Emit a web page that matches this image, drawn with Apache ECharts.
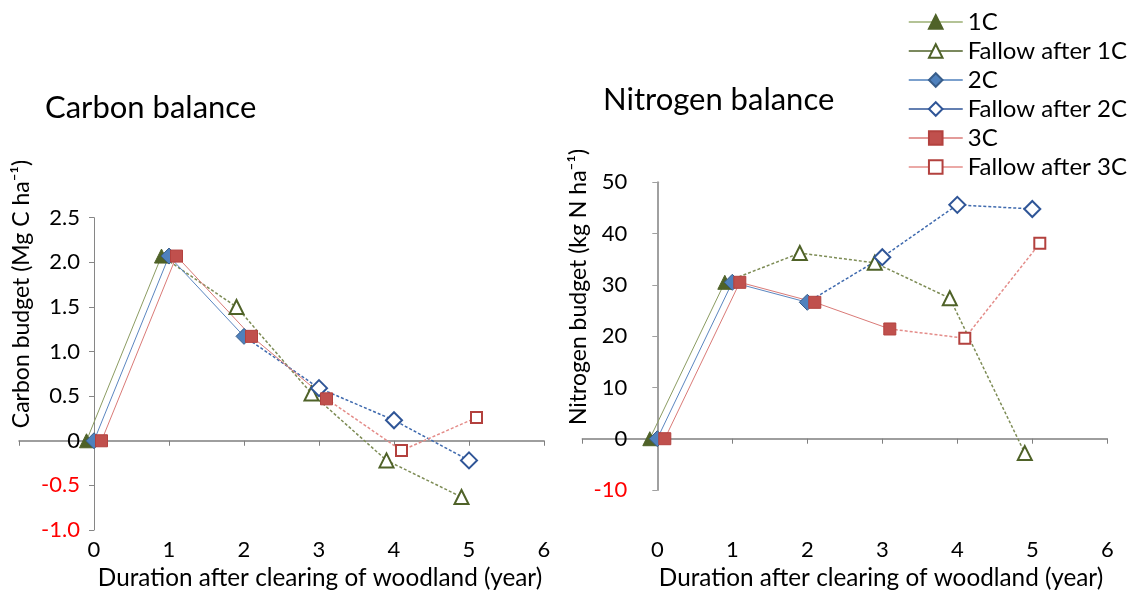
<!DOCTYPE html>
<html>
<head>
<meta charset="utf-8">
<script src="https://cdn.jsdelivr.net/npm/echarts@6/dist/echarts.min.js"></script>
<style>
  html, body { margin: 0; padding: 0; background: #fff; }
  #chart { width: 1139px; height: 595px; }
</style>
</head>
<body>
<div id="chart"></div>
<script>
// Series names (legend order)
const seriesNames = ['1C', 'Fallow after 1C', '2C', 'Fallow after 2C', '3C', 'Fallow after 3C'];

// Carbon budget (Mg C ha-1) by year; x values are staggered by system
const carbon1C = [[-0.1, 0], [0.9, 2.07]];
const carbonFallow1C = [[1.9, 1.50], [2.9, 0.53], [3.9, -0.22], [4.9, -0.63]];
const carbon2C = [[0, 0], [1.0, 2.07], [2.0, 1.17]];
const carbonFallow2C = [[3.0, 0.59], [4.0, 0.23], [5.0, -0.22]];
const carbon3C = [[0.1, 0], [1.1, 2.07], [2.1, 1.17], [3.1, 0.47]];
const carbonFallow3C = [[4.1, -0.11], [5.1, 0.26]];

// Nitrogen budget (kg N ha-1) by year
const nitrogen1C = [[-0.1, 0], [0.9, 30.5]];
const nitrogenFallow1C = [[1.9, 36.2], [2.9, 34.3], [3.9, 27.4], [4.9, -2.8]];
const nitrogen2C = [[0, 0], [1.0, 30.5], [2.0, 26.6]];
const nitrogenFallow2C = [[3.0, 35.4], [4.0, 45.6], [5.0, 44.8]];
const nitrogen3C = [[0.1, 0], [1.1, 30.5], [2.1, 26.6], [3.1, 21.4]];
const nitrogenFallow3C = [[4.1, 19.6], [5.1, 38.1]];

// Axis ranges
const xRange = { min: -1, max: 6, interval: 1 };
const carbonRange = { min: -1, max: 2.5, interval: 0.5 };
const nitrogenRange = { min: -10, max: 50, interval: 10 };

const FONT = 'Lato, "Open Sans", sans-serif';

// Plot area geometry: the x axis spans -1..6, the y axis crosses at x = 0
const PLOT_W = 525;
const Y_AXIS_SHIFT = PLOT_W / (xRange.max - xRange.min) * (0 - xRange.min);

const styles = {
  '1C':              { symbol: 'triangle', size: 14, fill: '#4F6228', border: '#4F6228', bw: 1, line: '#8C9C62', legendLine: '#9BAF73', dashed: false },
  'Fallow after 1C': { symbol: 'triangle', size: 14, fill: '#ffffff', border: '#4F6228', bw: 2, line: '#7D8C55', legendLine: '#4F6228', dashed: true },
  '2C':              { symbol: 'diamond',  size: 16, fill: '#4F81BD', border: '#385D8A', bw: 1, line: '#5B86C0', legendLine: '#4F81BD', dashed: false },
  'Fallow after 2C': { symbol: 'diamond',  size: 16, fill: '#ffffff', border: '#2F5597', bw: 2, line: '#3F6AAE', legendLine: '#2F5597', dashed: true },
  '3C':              { symbol: 'rect',     size: 12, fill: '#C0504D', border: '#B3413E', bw: 1, line: '#DA7A77', legendLine: '#DA7A77', dashed: false },
  'Fallow after 3C': { symbol: 'rect',     size: 11, fill: '#ffffff', border: '#B3413E', bw: 2, line: '#E48C89', legendLine: '#E48C89', dashed: true }
};

function makeSeries(name, data, gi) {
  const s = styles[name];
  return {
    type: 'line',
    name: name,
    xAxisIndex: gi * 2,
    yAxisIndex: gi,
    data: data,
    symbol: s.symbol,
    symbolSize: s.size,
    showAllSymbol: true,
    itemStyle: { color: s.fill, borderColor: s.border, borderWidth: s.bw },
    lineStyle: { color: s.line, width: s.dashed ? 1.5 : 1, type: s.dashed ? [3, 2] : 'solid' },
    emphasis: { disabled: true }
  };
}

// Fallow lines start from the last cropped point (drawn without a marker)
function fallowData(crop, fallow) {
  return [{ value: crop[crop.length - 1], symbol: 'none' }].concat(fallow);
}

function panelSeries(gi, c1, f1, c2, f2, c3, f3) {
  return [
    makeSeries('1C', c1, gi),
    makeSeries('Fallow after 1C', fallowData(c1, f1), gi),
    makeSeries('2C', c2, gi),
    makeSeries('Fallow after 2C', fallowData(c2, f2), gi),
    makeSeries('3C', c3, gi),
    makeSeries('Fallow after 3C', fallowData(c3, f3), gi)
  ];
}

function xAxes(gi, labelMargin) {
  return [
    { // axis line through zero, ticks only
      type: 'value', gridIndex: gi, position: 'bottom',
      min: xRange.min, max: xRange.max, interval: xRange.interval,
      axisLine: { onZero: true, lineStyle: { color: '#7F7F7F', width: 1.5 } },
      axisTick: { show: true, inside: false, length: 5, lineStyle: { color: '#7F7F7F', width: 1 } },
      axisLabel: { show: false },
      splitLine: { show: false }
    },
    { // tick labels along the bottom
      type: 'value', gridIndex: gi, position: 'bottom',
      min: xRange.min, max: xRange.max, interval: xRange.interval,
      axisLine: { show: false, onZero: false },
      axisTick: { show: false },
      splitLine: { show: false },
      axisLabel: {
        margin: labelMargin, fontFamily: FONT, fontSize: 22, color: '#000',
        formatter: v => (v < 0 ? '' : String(v))
      }
    }
  ];
}

function yAxis(gi, range, axisColor, axisWidth, labelMargin, fmt) {
  return {
    type: 'value', gridIndex: gi, position: 'left',
    offset: -Y_AXIS_SHIFT,
    min: range.min, max: range.max, interval: range.interval,
    axisLine: { show: true, onZero: false, lineStyle: { color: axisColor, width: axisWidth } },
    axisTick: { show: true, length: 5, lineStyle: { color: axisColor } },
    splitLine: { show: false },
    axisLabel: {
      margin: labelMargin, fontFamily: FONT, fontSize: 22,
      color: v => (Number(v) < 0 ? '#FF0000' : '#000000'),
      formatter: fmt
    }
  };
}

const option = {
  animation: false,
  backgroundColor: '#ffffff',
  grid: [
    { left: 19, top: 217.7, width: PLOT_W, height: 312.3, containLabel: false, outerBoundsMode: 'none' },
    { left: 582.3, top: 182.3, width: PLOT_W, height: 307.7, containLabel: false, outerBoundsMode: 'none' }
  ],
  xAxis: xAxes(0, 9).concat(xAxes(1, 49)),
  yAxis: [
    yAxis(0, carbonRange, '#868686', 1, 14, v => (v === 0 ? '0' : v.toFixed(1))),
    yAxis(1, nitrogenRange, '#A0A0A0', 2, 30, v => String(v))
  ],
  legend: {
    orient: 'vertical',
    left: 908, top: 10, padding: 0,
    itemWidth: 54, itemHeight: 17, itemGap: 5,
    selectedMode: false,
    textStyle: { fontFamily: FONT, fontSize: 24, lineHeight: 24, color: '#000' },
    data: seriesNames.map(n => ({ name: n, lineStyle: { type: 'solid', width: 1.5, color: styles[n].legendLine } }))
  },
  graphic: [
    { type: 'text', x: 45, y: 108, style: { text: 'Carbon balance', font: '31px ' + FONT, fill: '#000', align: 'left', verticalAlign: 'middle' } },
    { type: 'text', x: 603, y: 100, style: { text: 'Nitrogen balance', font: '31px ' + FONT, fill: '#000', align: 'left', verticalAlign: 'middle' } },
    { type: 'text', x: 22, y: 294, rotation: Math.PI / 2, style: { text: 'Carbon budget (Mg C ha\u207B\u00B9)', font: '23px ' + FONT, fill: '#000', align: 'center', verticalAlign: 'middle' } },
    { type: 'text', x: 579, y: 287, rotation: Math.PI / 2, style: { text: 'Nitrogen budget (kg N ha\u207B\u00B9)', font: '23px ' + FONT, fill: '#000', align: 'center', verticalAlign: 'middle' } },
    { type: 'text', x: 320, y: 578, style: { text: 'Duration after clearing of woodland (year)', font: '24.3px ' + FONT, fill: '#000', align: 'center', verticalAlign: 'middle' } },
    { type: 'text', x: 881, y: 578, style: { text: 'Duration after clearing of woodland (year)', font: '24.3px ' + FONT, fill: '#000', align: 'center', verticalAlign: 'middle' } }
  ],
  series: panelSeries(0, carbon1C, carbonFallow1C, carbon2C, carbonFallow2C, carbon3C, carbonFallow3C)
    .concat(panelSeries(1, nitrogen1C, nitrogenFallow1C, nitrogen2C, nitrogenFallow2C, nitrogen3C, nitrogenFallow3C))
};

const chart = echarts.init(document.getElementById('chart'), null, { renderer: 'canvas' });
chart.setOption(option);
</script>
</body>
</html>
